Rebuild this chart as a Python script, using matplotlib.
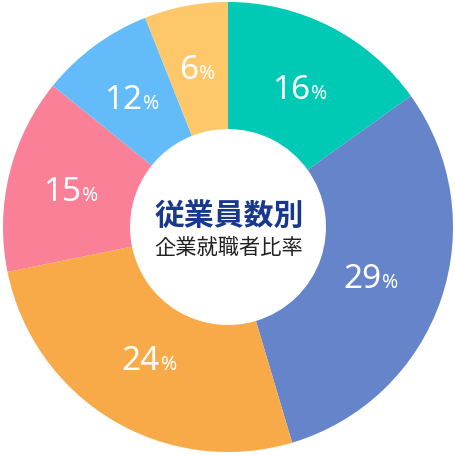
import matplotlib
matplotlib.use("Agg")
import matplotlib.pyplot as plt
import numpy as np
from matplotlib.transforms import Affine2D

plt.rcParams["font.family"] = ["Noto Sans CJK JP", "DejaVu Sans"]

# slice sizes as drawn (clockwise from 12 o'clock)
shares = [15.1, 30.3, 26.4, 14.0, 8.2, 6.0]
labels = ["16", "29", "24", "15", "12", "6"]
colors = ["#00C9B5", "#6584C9", "#F9AA48", "#F98096", "#63BCF9", "#FEC76A"]
title = "従業員数別"
subtitle = "企業就職者比率"

# label distance from centre (fraction of radius), tuned per slice
label_r = [0.70, 0.67, 0.68, 0.72, 0.72, 0.725]

fig = plt.figure(figsize=(4.56, 4.56), dpi=100)
ax = fig.add_axes([0, 0, 1, 1])

hole = 98 / 225
wedges, _ = ax.pie(
    shares, colors=colors, startangle=90, counterclock=False, radius=1,
    wedgeprops=dict(width=1 - hole, linewidth=0),
)

# pie() resets the limits, so set them afterwards
lim = 228 / 225
ax.set_xlim(-lim, lim)
ax.set_ylim(-lim, lim)
ax.set_aspect("equal")
ax.axis("off")

fig.canvas.draw()
renderer = fig.canvas.get_renderer()

for w, lab, r in zip(wedges, labels, label_r):
    mid = (w.theta1 + w.theta2) / 2
    x, y = r * np.cos(np.radians(mid)), r * np.sin(np.radians(mid))
    t1 = ax.text(x, y, lab, color="white", fontsize=24, family="Noto Sans",
                 ha="left", va="baseline")
    t2 = ax.text(x, y, "%", color="white", fontsize=14, family="Noto Sans",
                 ha="left", va="baseline")
    w1 = t1.get_window_extent(renderer).width
    w2 = t2.get_window_extent(renderer).width
    h = 24  # digit height in px
    dx0 = -(w1 + w2 + 1) / 2
    t1.set_transform(ax.transData + Affine2D().translate(dx0, -h / 2 + 1))
    t2.set_transform(ax.transData + Affine2D().translate(dx0 + w1 + 1, -h / 2 + 1))

ax.text(0.005, 0.055, title, color="#17388C", fontsize=21.5, fontweight="bold",
        ha="center", va="center")
ax.text(0.005, -0.09, subtitle, color="#222222", fontsize=15.3,
        ha="center", va="center")

fig.savefig("out.png", dpi=100)
